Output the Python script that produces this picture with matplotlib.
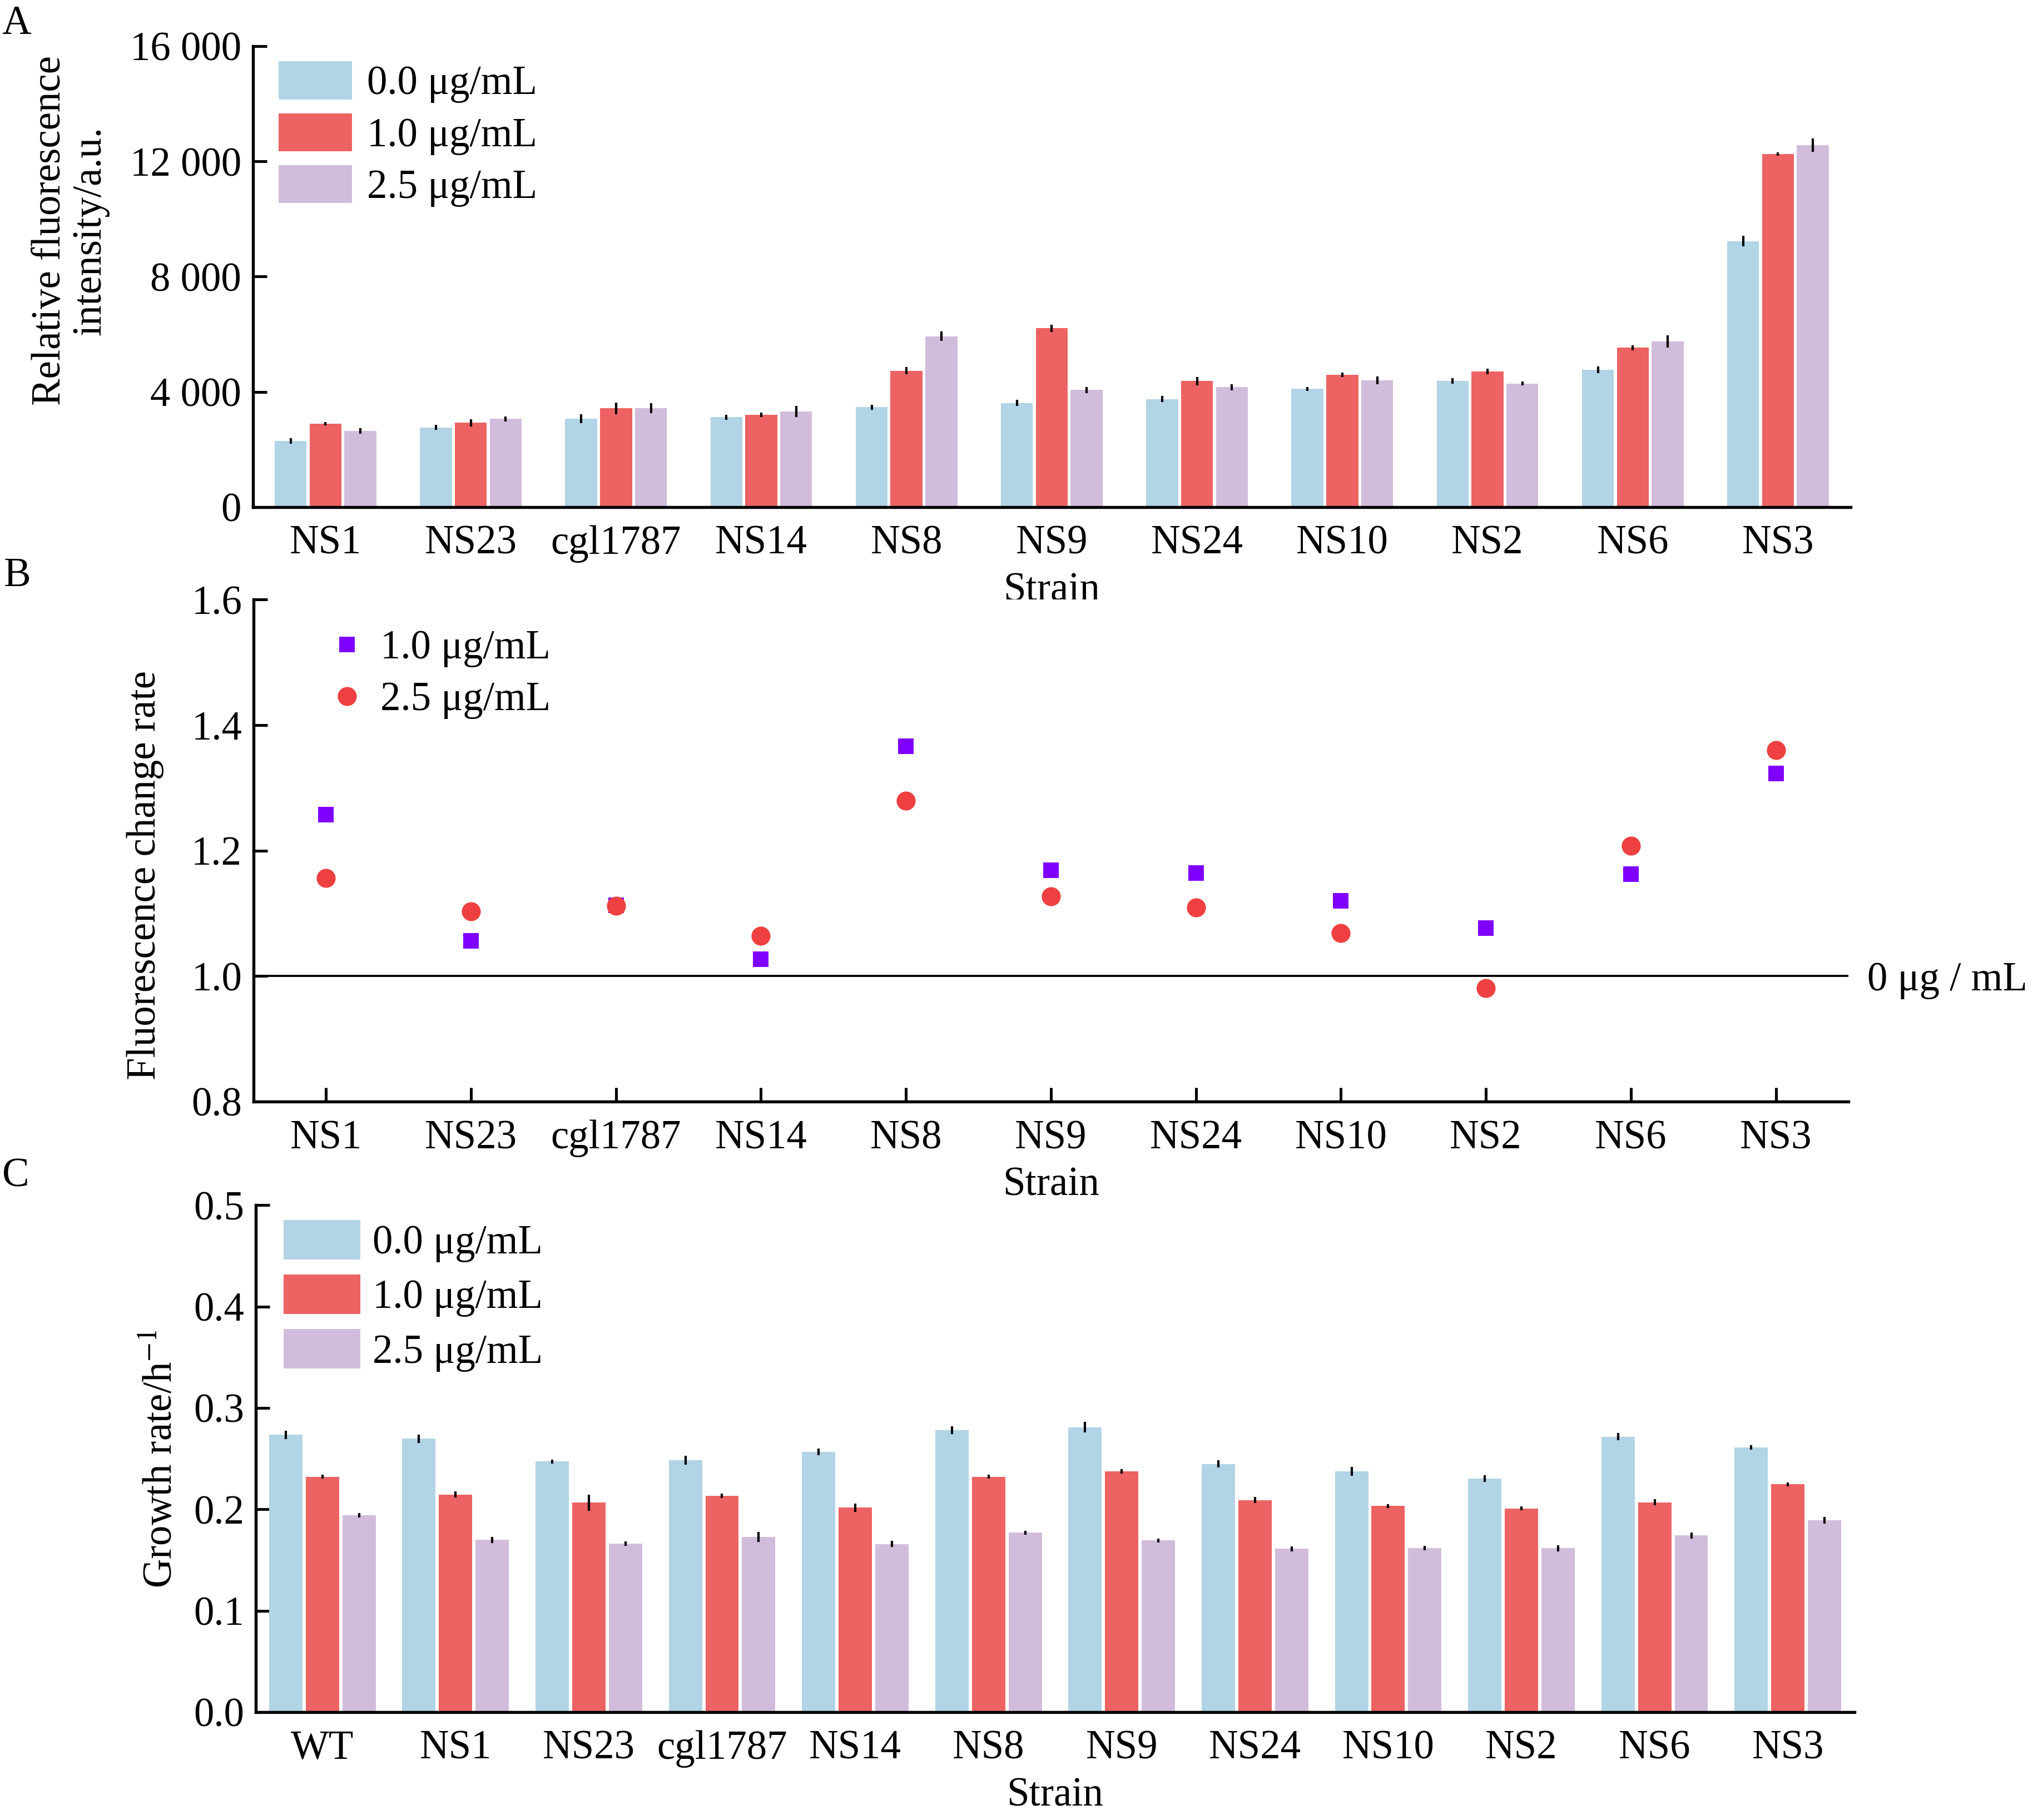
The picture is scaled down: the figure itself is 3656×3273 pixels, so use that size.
import numpy as np
import matplotlib
matplotlib.use("Agg")
import matplotlib.pyplot as plt
import matplotlib.transforms as mtransforms

plt.rcParams['font.family'] = ['Liberation Serif', 'DejaVu Serif']
plt.rcParams['mathtext.fontset'] = 'stix'

# ---- data ----
strains_a = ["NS1", "NS23", "cgl1787", "NS14", "NS8", "NS9", "NS24", "NS10", "NS2", "NS6", "NS3"]
dose_labels = ["0.0 μg/mL", "1.0 μg/mL", "2.5 μg/mL"]

fluo_0 = [2300, 2765, 3070, 3120, 3465, 3612, 3745, 4106, 4380, 4765, 9230]
fluo_1 = [2888, 2925, 3430, 3205, 4735, 6212, 4373, 4595, 4712, 5533, 12250]
fluo_25 = [2641, 3060, 3430, 3317, 5932, 4062, 4158, 4402, 4291, 5747, 12567]
fluo_0_err = [100, 90, 150, 90, 85, 105, 105, 70, 90, 110, 185]
fluo_1_err = [60, 120, 200, 80, 125, 125, 150, 75, 100, 90, 60]
fluo_25_err = [90, 80, 170, 190, 160, 110, 100, 130, 75, 210, 230]

rate_1 = [1.257, 1.056, 1.113, 1.027, 1.366, 1.169, 1.164, 1.120, 1.077, 1.163, 1.323]
rate_25 = [1.156, 1.103, 1.112, 1.064, 1.280, 1.127, 1.109, 1.069, 0.981, 1.208, 1.360]

strains_c = ["WT", "NS1", "NS23", "cgl1787", "NS14", "NS8", "NS9", "NS24", "NS10", "NS2", "NS6", "NS3"]
growth_0 = [0.2734, 0.2696, 0.2471, 0.2483, 0.2567, 0.2780, 0.2809, 0.2448, 0.2375, 0.2304, 0.2717, 0.2610]
growth_1 = [0.2321, 0.2145, 0.2066, 0.2133, 0.2016, 0.2321, 0.2375, 0.2091, 0.2032, 0.2008, 0.2069, 0.2246]
growth_25 = [0.1941, 0.1699, 0.1662, 0.1728, 0.1657, 0.1770, 0.1693, 0.1611, 0.1617, 0.1617, 0.1742, 0.1892]
growth_0_err = [0.004, 0.004, 0.002, 0.0045, 0.0035, 0.004, 0.0053, 0.0034, 0.0043, 0.0032, 0.0034, 0.002]
growth_1_err = [0.002, 0.003, 0.008, 0.002, 0.004, 0.002, 0.002, 0.003, 0.002, 0.002, 0.003, 0.002]
growth_25_err = [0.002, 0.003, 0.002, 0.005, 0.003, 0.002, 0.002, 0.0024, 0.002, 0.003, 0.003, 0.0032]

bar_colors = ["#B1D4E6", "#ED6262", "#D2BCDC"]
FS = 17.5

fig = plt.figure(figsize=(3656 / 300, 3273 / 300), dpi=300)


def style_axes(ax):
    for side in ["top", "right"]:
        ax.spines[side].set_visible(False)
    for side in ["left", "bottom"]:
        ax.spines[side].set_linewidth(1.3)
    ax.tick_params(axis="both", direction="in", length=6, width=1.2, labelsize=FS)
    ax.tick_params(axis="x", pad=7.8)
    ax.tick_params(axis="y", pad=5)


def grouped_bars(ax, groups, errs, width, step):
    x = np.arange(len(groups[0]))
    for k, (vals, err) in enumerate(zip(groups, errs)):
        ax.bar(x + (k - 1) * step, vals, width, color=bar_colors[k], label=dose_labels[k],
               yerr=err, error_kw=dict(ecolor="black", elinewidth=1.0, capsize=0), zorder=2)
    return x


# ---- panel A ----
axA = fig.add_axes([0.1244, 0.7214, 0.7859, 0.2532])
xA = grouped_bars(axA, [fluo_0, fluo_1, fluo_25], [fluo_0_err, fluo_1_err, fluo_25_err], 0.22, 0.24)
axA.set_xlim(-0.5, 10.5)
axA.set_ylim(0, 16000)
axA.set_yticks([0, 4000, 8000, 12000, 16000])
axA.set_yticklabels([f"{v:,}".replace(",", " ") for v in [0, 4000, 8000, 12000, 16000]])
axA.set_xticks(xA)
axA.set_xticklabels(strains_a)
style_axes(axA)
axA.set_xlabel("Strain", fontsize=FS, labelpad=4)
axA.set_ylabel("Relative fluorescence\nintensity/a.u.", fontsize=FS, linespacing=1.1)
axA.yaxis.set_label_coords(-0.09, 0.60)
axA.legend(loc="upper left", bbox_to_anchor=(0.016, 0.967), frameon=False, fontsize=FS,
           handlelength=1.81, handleheight=1.06, labelspacing=0.25, handletextpad=0.37,
           borderpad=0, borderaxespad=0)

# ---- panel B ----
axB = fig.add_axes([0.1247, 0.3947, 0.7845, 0.2758])
xB = np.arange(len(strains_a))
axB.axhline(1.0, color="black", lw=0.9, zorder=1)
axB.plot(xB, rate_1, "s", color="#7F00FF", ms=6.7, mew=0, label="1.0 μg/mL", zorder=3)
axB.plot(xB, rate_25, "o", color="#EE4040", ms=8.2, mew=0, label="2.5 μg/mL", zorder=3)
axB.set_xlim(-0.5, 10.5)
axB.set_ylim(0.8, 1.6)
axB.set_yticks([0.8, 1.0, 1.2, 1.4, 1.6])
axB.set_yticklabels(["0.8", "1.0", "1.2", "1.4", "1.6"])
axB.set_xticks(xB)
axB.set_xticklabels(strains_a)
style_axes(axB)
axB.set_xlabel("Strain", fontsize=FS, labelpad=4)
axB.set_ylabel("Fluorescence change rate", fontsize=FS)
axB.yaxis.set_label_coords(-0.056, 0.451)
trans = mtransforms.blended_transform_factory(axB.transAxes, axB.transData)
axB.text(1.012, 0.9774, "0 μg / mL", transform=trans, fontsize=FS, ha="left", va="baseline")
axB.legend(loc="upper left", bbox_to_anchor=(0.051, 0.94), frameon=False, fontsize=FS,
           numpoints=1, handlelength=0.6, handletextpad=0.52, labelspacing=0.35,
           borderpad=0, borderaxespad=0)

# ---- panel C ----
axC = fig.add_axes([0.1258, 0.0593, 0.7864, 0.2785])
xC = grouped_bars(axC, [growth_0, growth_1, growth_25], [growth_0_err, growth_1_err, growth_25_err], 0.25, 0.275)
axC.set_xlim(-0.5, 11.5)
axC.set_ylim(0, 0.5)
axC.set_yticks([0.0, 0.1, 0.2, 0.3, 0.4, 0.5])
axC.set_yticklabels(["0.0", "0.1", "0.2", "0.3", "0.4", "0.5"])
axC.set_xticks(xC)
axC.set_xticklabels(strains_c)
style_axes(axC)
axC.set_xlabel("Strain", fontsize=FS, labelpad=4)
axC.set_ylabel("Growth rate/h$^{-1}$", fontsize=FS)
axC.yaxis.set_label_coords(-0.047, 0.50)
axC.legend(loc="upper left", bbox_to_anchor=(0.0174, 0.971), frameon=False, fontsize=FS,
           handlelength=1.9, handleheight=1.125, labelspacing=0.3, handletextpad=0.29,
           borderpad=0, borderaxespad=0)

# panel letters
fig.text(0.001, 0.9814, "A", fontsize=FS, va="baseline")
fig.text(0.002, 0.678, "B", fontsize=FS, va="baseline")
fig.text(0.001, 0.3483, "C", fontsize=FS, va="baseline")

fig.savefig("out.png", dpi=300)
